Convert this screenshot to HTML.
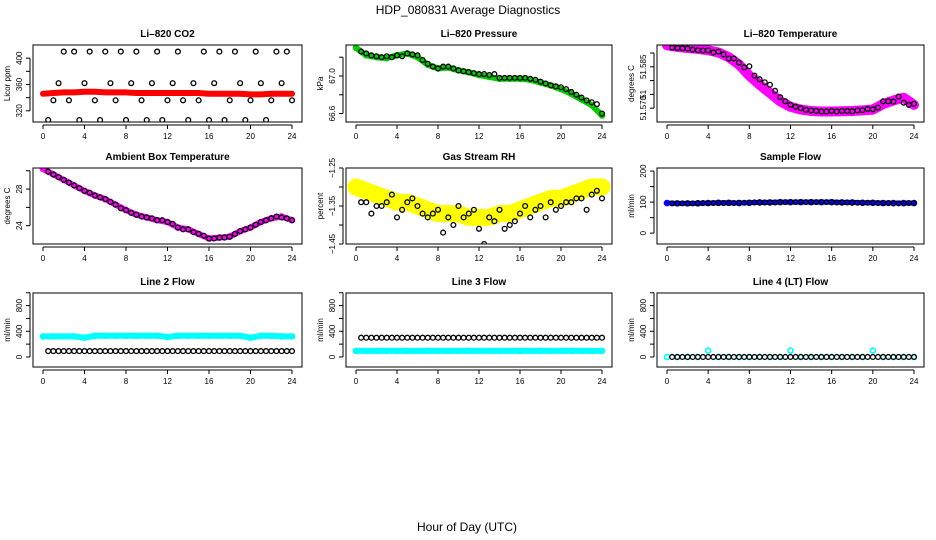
<!DOCTYPE html>
<html><head><meta charset="utf-8">
<style>
html,body{margin:0;padding:0;background:#fff;}
svg{display:block;font-family:"Liberation Sans",Arial,sans-serif;}
</style></head>
<body>
<svg id="c" width="936" height="540" viewBox="0 0 936 540" xmlns="http://www.w3.org/2000/svg">
<text x="468" y="14" font-size="12" text-anchor="middle">HDP_080831  Average Diagnostics</text>
<text x="467" y="531" font-size="12" text-anchor="middle">Hour of Day (UTC)</text>
</svg>
<script>
const hours = [0,1,2,3,4,5,6,7,8,9,10,11,12,13,14,15,16,17,18,19,20,21,22,23,24];
const halfHours = [0.5,1,1.5,2,2.5,3,3.5,4,4.5,5,5.5,6,6.5,7,7.5,8,8.5,9,9.5,10,10.5,11,11.5,12,12.5,13,13.5,14,14.5,15,15.5,16,16.5,17,17.5,18,18.5,19,19.5,20,20.5,21,21.5,22,22.5,23,23.5,24];
const xTicks = [0,4,8,12,16,20,24];

const co2Band = [346,347,348,348,349,349,348,348,348,347,347,347,347,347,347,347,346,346,346,346,345,345,346,346,346];
const co2Black = [306,336,362,410,336,410,306,362,410,336,306,410,362,336,410,306,362,410,336,306,362,410,306,336,362,410,336,306,362,336,410,306,362,410,306,336,410,362,306,336,410,362,306,336,410,362,410,336];

const presBand = [67.30,67.22,67.20,67.19,67.22,67.24,67.20,67.12,67.08,67.09,67.06,67.04,67.01,66.99,66.97,66.97,66.97,66.96,66.93,66.90,66.86,66.81,66.75,66.69,66.58];
const presBlack = [67.26,67.24,67.22,67.21,67.20,67.21,67.20,67.22,67.21,67.24,67.23,67.22,67.17,67.13,67.10,67.08,67.10,67.10,67.08,67.06,67.05,67.04,67.03,67.02,67.02,67.01,67.02,66.98,66.98,66.98,66.98,66.98,66.98,66.97,66.96,66.94,66.92,66.90,66.89,66.88,66.86,66.83,66.80,66.77,66.74,66.72,66.70,66.60];

const tempBand = [51.5928,51.5922,51.5918,51.5915,51.5910,51.5902,51.5885,51.5858,51.5818,51.5785,51.5755,51.5725,51.5705,51.5695,51.5690,51.5688,51.5688,51.5689,51.5690,51.5692,51.5695,51.5715,51.5728,51.5738,51.5712];
const tempBlack = [51.5920,51.5918,51.5917,51.5916,51.5912,51.5910,51.5909,51.5910,51.5902,51.5905,51.5895,51.5880,51.5880,51.5865,51.5848,51.5852,51.5818,51.5805,51.5794,51.5785,51.5763,51.5740,51.5725,51.5712,51.5705,51.5700,51.5694,51.5692,51.5690,51.5688,51.5688,51.5690,51.5688,51.5690,51.5690,51.5689,51.5692,51.5693,51.5697,51.5696,51.5702,51.5725,51.5725,51.5724,51.5742,51.5720,51.5712,51.5716];

const rhBand = [-1.30,-1.31,-1.32,-1.33,-1.34,-1.34,-1.35,-1.36,-1.37,-1.37,-1.37,-1.38,-1.38,-1.38,-1.37,-1.37,-1.36,-1.35,-1.34,-1.33,-1.33,-1.32,-1.31,-1.30,-1.30];
const rhBlack = [-1.34,-1.34,-1.37,-1.35,-1.35,-1.34,-1.32,-1.38,-1.36,-1.34,-1.33,-1.35,-1.37,-1.38,-1.37,-1.36,-1.42,-1.38,-1.40,-1.35,-1.38,-1.37,-1.36,-1.41,-1.45,-1.38,-1.39,-1.36,-1.41,-1.40,-1.39,-1.37,-1.35,-1.38,-1.36,-1.35,-1.38,-1.34,-1.36,-1.35,-1.34,-1.34,-1.33,-1.33,-1.36,-1.32,-1.31,-1.33];

const ambBand = [30.2,29.6,29.0,28.4,27.8,27.3,26.9,26.3,25.7,25.2,24.9,24.6,24.4,23.8,23.6,23.1,22.6,22.7,22.8,23.4,23.8,24.4,24.8,25.0,24.6];
const ambBlack = [29.9,29.6,29.3,29.0,28.7,28.4,28.1,27.8,27.6,27.3,27.1,26.9,26.6,26.3,25.9,25.7,25.4,25.2,25.0,24.9,24.8,24.6,24.6,24.4,24.2,23.8,23.6,23.6,23.3,23.1,22.9,22.6,22.6,22.7,22.7,22.8,23.1,23.4,23.6,23.8,24.1,24.4,24.6,24.8,25.0,24.9,24.8,24.6];

const sampleBand = [97,96,96,96,97,98,98,97,98,99,99,100,100,100,100,100,100,99,99,98,98,97,97,97,97];
const sampleBlack = [96,96,96,96,96,97,97,97,97,97,97,97,97,98,98,98,99,99,99,99,99,100,100,100,100,100,100,100,100,100,100,100,99,99,99,98,98,98,98,98,97,97,97,96,96,96,97,97];

const line2Cyan = [320,320,320,320,300,330,330,330,330,330,330,330,310,330,330,330,330,330,330,330,300,330,330,320,320];
const line2Black = [92,92,92,92,92,92,92,92,92,92,92,92,92,92,92,92,92,92,92,92,92,92,92,92,92,92,92,92,92,92,92,92,92,92,92,92,92,92,92,92,92,92,92,92,92,92,92,92];
const line3Cyan = [95,95,95,95,95,95,95,95,95,95,95,95,95,95,95,95,95,95,95,95,95,95,95,95,95];
const line3Black = [300,300,300,300,300,300,300,300,300,300,300,300,300,300,300,300,300,300,300,300,300,300,300,300,300,300,300,300,300,300,300,300,300,300,300,300,300,300,300,300,300,300,300,300,300,300,300,300];
const line4Cyan = [0,0,0,0,100,0,0,0,0,0,0,0,100,0,0,0,0,0,0,0,100,0,0,0,0];
const line4Black = [0,0,0,0,0,0,0,0,0,0,0,0,0,0,0,0,0,0,0,0,0,0,0,0,0,0,0,0,0,0,0,0,0,0,0,0,0,0,0,0,0,0,0,0,0,0,0,0];

const NS = "http://www.w3.org/2000/svg";
const svg = document.getElementById('c');
const colL = [33,346,657], colR = [302,612,924];
const rowT = [45,168,293], rowB = [122,244,367];

function mk(tag, attrs, parent){
  const e = document.createElementNS(NS, tag);
  for (const k in attrs) e.setAttribute(k, attrs[k]);
  (parent||svg).appendChild(e);
  return e;
}

const panels = [
 {title:'Li\u2013820 CO2', ylab:'Licor ppm', r:0,c:0, ymin:303, ymax:420, yt:[320,340,360,380,400], yl:{320:'320',360:'360',400:'400'}, band:co2Band, bandW:6, bcol:'#ff0000', black:co2Black, bandPts:false},
 {title:'Li\u2013820 Pressure', ylab:'kPa', r:0,c:1, ymin:66.51, ymax:67.33, yt:[66.6,66.8,67.0,67.2], yl:{'66.6':'66.6','67':'67.0'}, band:presBand, bandW:6, bcol:'#00cc00', black:presBlack, bandPts:true},
 {title:'Li\u2013820 Temperature', ylab:'degrees C', r:0,c:2, ymin:51.565, ymax:51.5929, yt:[51.57,51.575,51.58,51.585,51.59], yl:{'51.57':'51.570','51.575':'51','51.585':'51.585'}, band:tempBand, bandW:10, bcol:'#ff00ff', black:tempBlack, bandPts:true},
 {title:'Ambient Box Temperature', ylab:'degrees C', r:1,c:0, ymin:22.0, ymax:30.3, yt:[24,26,28,30], yl:{24:'24',28:'28'}, band:ambBand, bandW:6, bcol:'#ff00ff', black:ambBlack, bandPts:true},
 {title:'Gas Stream RH', ylab:'percent', r:1,c:1, ymin:-1.45, ymax:-1.25, yt:[-1.45,-1.4,-1.35,-1.3,-1.25], yl:{'-1.45':'\u22121.45','-1.35':'\u22121.35','-1.25':'\u22121.25'}, band:rhBand, bandW:17, bcol:'#ffff00', black:rhBlack, bandPts:true},
 {title:'Sample Flow', ylab:'ml/min', r:1,c:2, ymin:-35, ymax:210, yt:[0,50,100,150,200], yl:{0:'0',100:'100',200:'200'}, band:sampleBand, bandW:5, bcol:'#0000ff', black:sampleBlack, bandPts:true},
 {title:'Line 2 Flow', ylab:'ml/min', r:2,c:0, ymin:-156, ymax:996, yt:[0,200,400,600,800,1000], yl:{0:'0',400:'400',800:'800'}, band:line2Cyan, bandW:6, bcol:'#00ffff', black:line2Black, bandPts:true},
 {title:'Line 3 Flow', ylab:'ml/min', r:2,c:1, ymin:-156, ymax:996, yt:[0,200,400,600,800,1000], yl:{0:'0',400:'400',800:'800'}, band:line3Cyan, bandW:6, bcol:'#00ffff', black:line3Black, bandPts:true, blackFirst:true},
 {title:'Line 4 (LT) Flow', ylab:'ml/min', r:2,c:2, ymin:-156, ymax:996, yt:[0,200,400,600,800,1000], yl:{0:'0',400:'400',800:'800'}, band:line4Cyan, bandW:0, bcol:'#00ffff', black:line4Black, bandPts:true},
];

panels.forEach((p,i)=>{
  const L = colL[p.c], R = colR[p.c], T = rowT[p.r], B = rowB[p.r];
  const xs = h => L + 10 + (R - L - 20) * h / 24;
  const ys = v => B - (B - T) * (v - p.ymin) / (p.ymax - p.ymin);
  const g = mk('g', {});
  
  
  const cp = mk('clipPath', {id:'cp'+i}, g);
  mk('rect', {x:L, y:T, width:R-L, height:B-T}, cp);
  const t = mk('text', {x:(L+R)/2, y:T-8, 'font-size':10, 'font-weight':'bold', 'text-anchor':'middle'}, g);
  t.textContent = p.title;
  
  
  const plot = mk('g', {'clip-path':'url(#cp'+i+')'}, g);
  const drawBand = () => {
    if (p.bandW > 0) {
      const pl = mk('polyline', {points: hours.map((h,k)=>xs(h)+','+ys(p.band[k])).join(' '), fill:'none', stroke:p.bcol, 'stroke-width':p.bandW, 'stroke-linejoin':'round', 'stroke-linecap':'round'}, plot);
      
      
    }
    if (p.bandPts) hours.forEach((h,k)=>{
      const c = mk('circle', {cx:xs(h), cy:ys(p.band[k]), r:2.5, fill:'none', stroke:p.bcol, 'stroke-width':1.6}, plot);
      
      
    });
  };
  const drawBlack = () => {
    halfHours.forEach((h,k)=>{
      const c = mk('circle', {cx:xs(h), cy:ys(p.black[k]), r:2.4, fill:'none', stroke:'#000', 'stroke-width':1.3}, plot);
      
      
    });
  };
  if (p.blackFirst) { drawBlack(); drawBand(); } else { drawBand(); drawBlack(); }
  const box = mk('rect', {x:L, y:T, width:R-L, height:B-T, fill:'none', stroke:'#000', 'stroke-width':1}, g);
  
  
  const ax = mk('g', {}, g);
  
  
  mk('line', {x1:xs(0), x2:xs(24), y1:B+3, y2:B+3, stroke:'#000'}, ax);
  xTicks.forEach(v=>{
    mk('line', {x1:xs(v), x2:xs(v), y1:B+3, y2:B+7, stroke:'#000'}, ax);
    const tl = mk('text', {x:xs(v), y:B+17, 'font-size':8, 'text-anchor':'middle'}, ax);
    tl.textContent = v;
  });
  const ay = mk('g', {}, g);
  
  
  mk('line', {x1:L-3, x2:L-3, y1:ys(p.yt[0]), y2:ys(p.yt[p.yt.length-1]), stroke:'#000'}, ay);
  p.yt.forEach(v=>{
    mk('line', {x1:L-3, x2:L-7, y1:ys(v), y2:ys(v), stroke:'#000'}, ay);
    const key = String(+v.toFixed(4));
    if (p.yl[key] !== undefined) {
      const tl = mk('text', {x:L-11, y:ys(v), 'font-size':8, 'text-anchor':'middle', transform:'rotate(-90 '+(L-11)+' '+ys(v)+')'}, ay);
      tl.textContent = p.yl[key];
    }
  });
  const yt = mk('text', {x:L-23, y:(T+B)/2, 'font-size':8, 'text-anchor':'middle', transform:'rotate(-90 '+(L-23)+' '+((T+B)/2)+')'}, g);
  yt.textContent = p.ylab;
  
  
});
</script>
</body></html>
